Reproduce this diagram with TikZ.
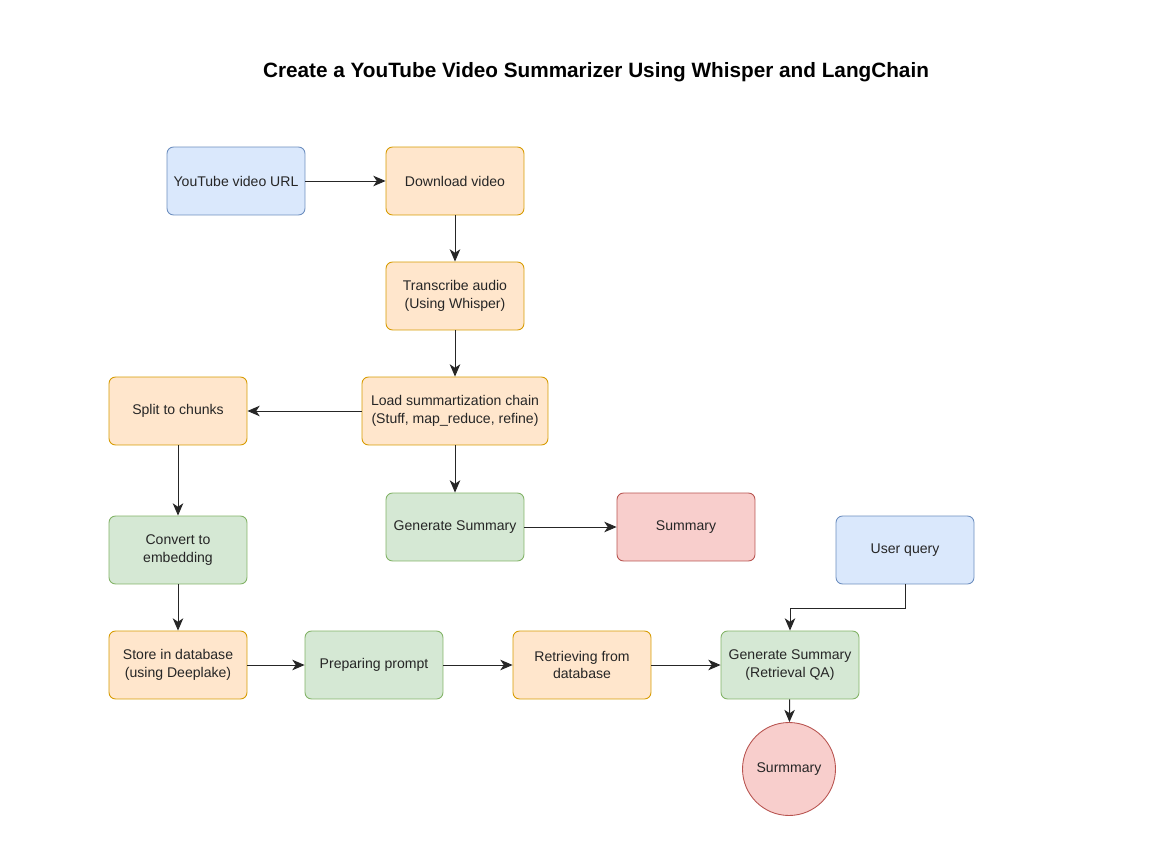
\documentclass[tikz,border=0pt]{standalone}
\usepackage{fontspec}
\setmainfont{Liberation Sans}
\usetikzlibrary{arrows.meta, positioning, calc}

\definecolor{bluefill}{HTML}{DAE8FC}
\definecolor{bluedraw}{HTML}{6C8EBF}
\definecolor{orangefill}{HTML}{FFE6CC}
\definecolor{orangedraw}{HTML}{D79B00}
\definecolor{greenfill}{HTML}{D5E8D4}
\definecolor{greendraw}{HTML}{82B366}
\definecolor{redfill}{HTML}{F8CECC}
\definecolor{reddraw}{HTML}{B85450}

\begin{document}
\begin{tikzpicture}[x=0.02cm, y=-0.02cm,
  box/.style={rectangle, rounded corners=0.13cm, line width=0.5pt, minimum width=2.76cm,
    minimum height=1.36cm, align=center, font=\fontsize{8}{10}\selectfont, text=black!85},
  bluebox/.style={box, fill=bluefill, draw=bluedraw},
  orangebox/.style={box, fill=orangefill, draw=orangedraw},
  greenbox/.style={box, fill=greenfill, draw=greendraw},
  redbox/.style={box, fill=redfill, draw=reddraw},
  link/.style={-{Stealth[length=7pt, width=6pt, inset=2pt]}, line width=0.5pt, black!85}]
\useasboundingbox (0,0) rectangle (1172,861);
% title
\node (title) at (596,72) {\fontsize{11.8}{14}\selectfont\bfseries Create a YouTube Video Summarizer Using Whisper and LangChain};
% summarization path
\node[bluebox] (url) at (236,181) {YouTube video URL};
\node[orangebox] (download) at (455,181) {Download video};
\node[orangebox] (transcribe) at (455,296) {Transcribe audio\\(Using Whisper)};
\node[orangebox, minimum width=3.72cm] (chain) at (455,411) {Load summartization chain\\(Stuff, map\_reduce, refine)};
\node[greenbox] (gensum) at (455,527) {Generate Summary};
\node[redbox] (summary) at (686,527) {Summary};
% retrieval path
\node[orangebox] (split) at (178,411) {Split to chunks};
\node[greenbox] (embed) at (178,550) {Convert to\\embedding};
\node[orangebox] (store) at (178,665) {Store in database\\(using Deeplake)};
\node[greenbox] (prompt) at (374,665) {Preparing prompt};
\node[orangebox] (retrieve) at (582,665) {Retrieving from\\database};
\node[greenbox] (genqa) at (790,665) {Generate Summary\\(Retrieval QA)};
\node[bluebox] (query) at (905,550) {User query};
\node[circle, fill=redfill, draw=reddraw, line width=0.5pt, minimum size=1.86cm,
  font=\fontsize{8}{10}\selectfont, text=black!85] (final) at (789,769) {Surmmary};
% arrows
\draw[link] (url) -- (download);
\draw[link] (download) -- (transcribe);
\draw[link] (transcribe) -- (chain);
\draw[link] (chain) -- (split);
\draw[link] (chain) -- (gensum);
\draw[link] (gensum) -- (summary);
\draw[link] (split) -- (embed);
\draw[link] (embed) -- (store);
\draw[link] (store) -- (prompt);
\draw[link] (prompt) -- (retrieve);
\draw[link] (retrieve) -- (genqa);
\draw[link] (query.south) -- ++(0,24) -| (genqa.north);
\draw[link] (genqa) -- (final);
\end{tikzpicture}
\end{document}
